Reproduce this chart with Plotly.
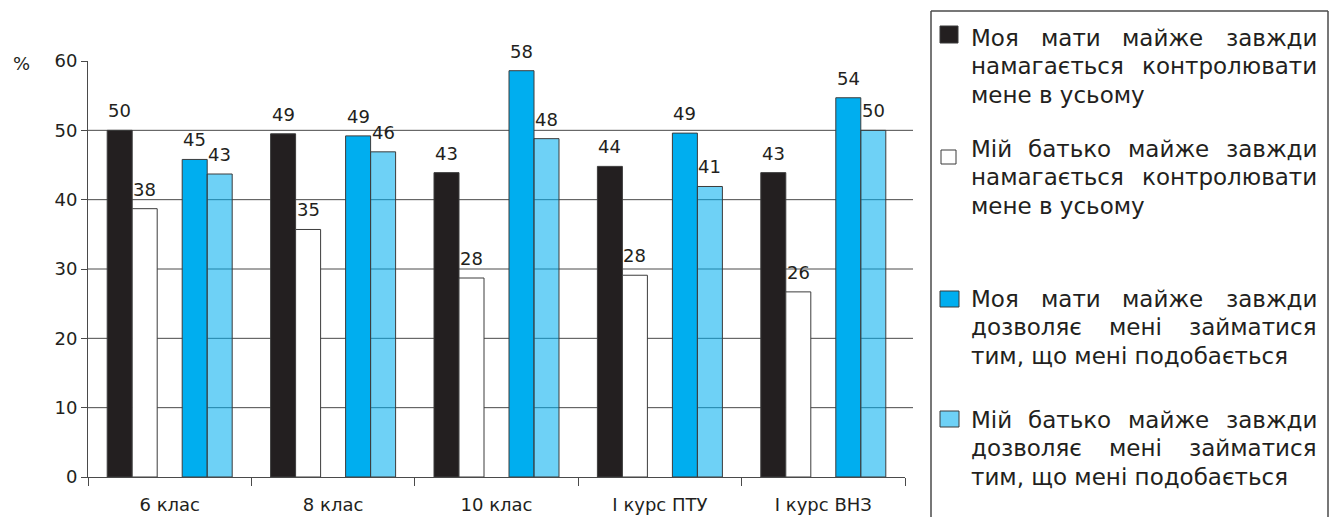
import glob
import struct
import plotly.graph_objects as go

categories = ["6 клас", "8 клас", "10 клас", "І курс ПТУ", "І курс ВНЗ"]
mother_control = [50.0, 49.5, 43.9, 44.8, 43.9]
father_control = [38.7, 35.7, 28.7, 29.1, 26.7]
mother_allow = [45.8, 49.2, 58.6, 49.6, 54.7]
father_allow = [43.7, 46.9, 48.8, 41.9, 50.0]
mother_control_lbl = [50, 49, 43, 44, 43]
father_control_lbl = [38, 35, 28, 28, 26]
mother_allow_lbl = [45, 49, 58, 49, 54]
father_allow_lbl = [43, 46, 48, 41, 50]
y_ticks = [0, 10, 20, 30, 40, 50, 60]
grid_values = [10, 20, 30, 40, 50]

legend_items = [
    ["Моя мати майже завжди", "намагається контролювати", "мене в усьому"],
    ["Мій батько майже завжди", "намагається контролювати", "мене в усьому"],
    ["Моя мати майже завжди", "дозволяє мені займатися", "тим, що мені подобається"],
    ["Мій батько майже завжди", "дозволяє мені займатися", "тим, що мені подобається"],
]

TXT = "#231f20"
EDGE = "#3c3c3c"
FONT = "DejaVu Sans"
W, H = 1332, 517
L, R, T, B = 88, 905, 61, 477


def px(x):
    return (x - L) / (R - L)


def py(y):
    return (B - y) / (B - T)


# ---- minimal TrueType advance-width reader (for justified legend text) ----
def load_font_metrics():
    paths = glob.glob("/usr/share/fonts/**/DejaVuSans.ttf", recursive=True)
    if not paths:
        return None
    data = open(paths[0], "rb").read()
    n = struct.unpack(">H", data[4:6])[0]
    tabs = {}
    for i in range(n):
        tag, _, off, ln = struct.unpack(">4sIII", data[12 + 16 * i:28 + 16 * i])
        tabs[tag.decode("latin1")] = off
    upem = struct.unpack(">H", data[tabs["head"] + 18:tabs["head"] + 20])[0]
    nhm = struct.unpack(">H", data[tabs["hhea"] + 34:tabs["hhea"] + 36])[0]
    hm = tabs["hmtx"]
    adv = [struct.unpack(">H", data[hm + 4 * i:hm + 4 * i + 2])[0] for i in range(nhm)]
    c = tabs["cmap"]
    nsub = struct.unpack(">H", data[c + 2:c + 4])[0]
    sub = None
    for i in range(nsub):
        pid, eid, off = struct.unpack(">HHI", data[c + 4 + 8 * i:c + 12 + 8 * i])
        fmt = struct.unpack(">H", data[c + off:c + off + 2])[0]
        if fmt == 4 and (pid, eid) in ((3, 1), (0, 3), (0, 4), (0, 1)):
            sub = c + off
            break
    if sub is None:
        return None
    seg = struct.unpack(">H", data[sub + 6:sub + 8])[0] // 2
    ends = struct.unpack(">%dH" % seg, data[sub + 14:sub + 14 + 2 * seg])
    sp = sub + 16 + 2 * seg
    starts = struct.unpack(">%dH" % seg, data[sp:sp + 2 * seg])
    dp = sp + 2 * seg
    deltas = struct.unpack(">%dh" % seg, data[dp:dp + 2 * seg])
    rp = dp + 2 * seg
    ranges = struct.unpack(">%dH" % seg, data[rp:rp + 2 * seg])

    def glyph(ch):
        cp = ord(ch)
        for i in range(seg):
            if starts[i] <= cp <= ends[i]:
                if ranges[i] == 0:
                    return (cp + deltas[i]) & 0xFFFF
                addr = rp + 2 * i + ranges[i] + 2 * (cp - starts[i])
                g = struct.unpack(">H", data[addr:addr + 2])[0]
                return (g + deltas[i]) & 0xFFFF if g else 0
        return 0

    def width(s, size):
        tot = 0
        for ch in s:
            g = glyph(ch)
            tot += adv[g] if g < len(adv) else adv[-1]
        return tot / upem * size

    return width


text_width = load_font_metrics()
if text_width is None:
    def text_width(s, size):
        return len(s) * 0.6 * size


bw = 0.153
series = [
    (mother_control, mother_control_lbl, "#231f20", -2.5 * bw),
    (father_control, father_control_lbl, "#ffffff", -1.5 * bw),
    (mother_allow, mother_allow_lbl, "#00aeef", 0.5 * bw),
    (father_allow, father_allow_lbl, "rgba(0,174,239,0.57)", 1.5 * bw),
]

fig = go.Figure()
annotations = []
for vals, lbls, col, off in series:
    fig.add_trace(go.Bar(
        x=categories, y=vals, width=bw, offset=off,
        marker=dict(color=col, line=dict(color=EDGE, width=1)),
        hoverinfo="skip", showlegend=False,
    ))
    for i, (v, t) in enumerate(zip(vals, lbls)):
        annotations.append(dict(
            x=i + off + bw / 2, y=v, xref="x", yref="y", text=str(t),
            showarrow=False, yanchor="bottom", xanchor="center", yshift=7,
            font=dict(family=FONT, size=18, color=TXT),
        ))

shapes = []
for g in grid_values:
    shapes.append(dict(type="line", xref="paper", yref="y", x0=0, x1=px(913),
                       y0=g, y1=g, line=dict(color="#4a4a4a", width=1), layer="below"))

# legend frame (open at the bottom)
lx0, lx1, ly0, ly1 = px(931), px(1328), py(11), py(530)
for (a, b, c, d) in [(lx0, ly1, lx0, ly0), (lx0, ly0, lx1, ly0), (lx1, ly0, lx1, ly1)]:
    shapes.append(dict(type="line", xref="paper", yref="paper", x0=a, y0=b, x1=c, y1=d,
                       line=dict(color="#4a4a4a", width=1.5)))

marker_fill = ["#231f20", "#ffffff", "#00aeef", "rgba(0,174,239,0.57)"]
marker_box = [(940, 958, 26, 43), (941, 956, 150, 164), (940, 959, 291, 307), (940, 959, 411, 427)]
for fillc, (x0, x1, y0, y1) in zip(marker_fill, marker_box):
    shapes.append(dict(type="rect", xref="paper", yref="paper", x0=px(x0), x1=px(x1),
                       y0=py(y1), y1=py(y0), fillcolor=fillc,
                       line=dict(color="#3a3a3a", width=1)))

# legend text, justified (all lines but the last of each item)
base_lines = [45.7, 156.7, 306.7, 427.7]
line_gap = 28.5
LFS = 23
TX0, TX1 = 970, 1316
for item, b0 in zip(legend_items, base_lines):
    for k, line in enumerate(item):
        yb = b0 + k * line_gap
        ymid = py(yb - 0.346 * LFS)
        words = line.split(" ")
        if k < len(item) - 1 and len(words) > 1:
            ws = [text_width(w, LFS) for w in words]
            gap = (TX1 - TX0 - sum(ws)) / (len(words) - 1)
            gap = max(gap, text_width(" ", LFS))
            xcur = TX0
            for w, wd in zip(words, ws):
                annotations.append(dict(x=px(xcur), y=ymid, xref="paper", yref="paper", text=w,
                                        showarrow=False, xanchor="left", yanchor="middle",
                                        borderpad=0,
                                        font=dict(family=FONT, size=LFS, color=TXT)))
                xcur += wd + gap
        else:
            annotations.append(dict(x=px(TX0), y=ymid, xref="paper", yref="paper", text=line,
                                    showarrow=False, xanchor="left", yanchor="middle",
                                    borderpad=0,
                                    font=dict(family=FONT, size=LFS, color=TXT)))

annotations.append(dict(x=px(21.5), y=py(63.5), xref="paper", yref="paper", text="%",
                        showarrow=False, xanchor="center", yanchor="middle",
                        font=dict(family=FONT, size=18, color=TXT)))

fig.update_layout(
    width=W, height=H, margin=dict(l=L, r=W - R, t=T, b=H - B, pad=0, autoexpand=False),
    plot_bgcolor="white", paper_bgcolor="white", barmode="overlay",
    font=dict(family=FONT, size=18, color=TXT),
    shapes=shapes, annotations=annotations,
)
fig.update_xaxes(type="category", range=[-0.5, 4.5], tickson="boundaries", ticks="outside",
                 ticklen=8, tickcolor="#4a4a4a", showline=True, linecolor="#4a4a4a", linewidth=1,
                 showgrid=False, zeroline=False, ticklabelstandoff=11, automargin=False,
                 tickfont=dict(family=FONT, size=18, color=TXT))
fig.update_yaxes(range=[0, 60], tickvals=y_ticks, ticks="outside", ticklen=6, tickcolor="#4a4a4a",
                 showline=True, linecolor="#4a4a4a", linewidth=1, showgrid=False, zeroline=False,
                 automargin=False,
                 tickfont=dict(family=FONT, size=18, color=TXT))

fig.write_html("out.html")
